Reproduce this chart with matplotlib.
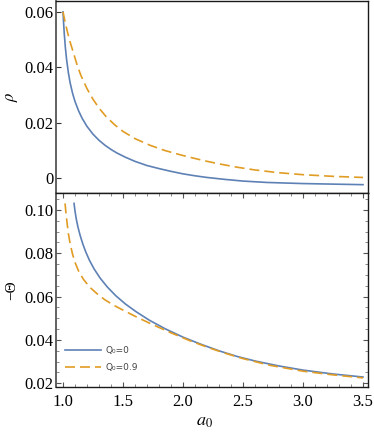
import matplotlib
matplotlib.use("Agg")
import matplotlib.pyplot as plt
from matplotlib.ticker import MultipleLocator

plt.rcParams['mathtext.fontset'] = 'stix'

# ---- data ----
a_rho_q0 = [1.000, 1.005, 1.010, 1.020, 1.030, 1.045, 1.060, 1.080, 1.100, 1.130,
            1.160, 1.200, 1.250, 1.300, 1.350, 1.400, 1.450, 1.520, 1.600, 1.700,
            1.800, 1.900, 2.000, 2.100, 2.200, 2.350, 2.500, 2.700, 3.000, 3.500]
rho_q0 = [0.0600, 0.0560, 0.0525, 0.0470, 0.0428, 0.0380, 0.0343, 0.0306, 0.0277, 0.0243,
          0.0216, 0.0187, 0.0159, 0.0137, 0.0119, 0.0104, 0.0091, 0.0076, 0.0061, 0.0046,
          0.0035, 0.0025, 0.0016, 0.0009, 0.0003, -0.0004, -0.0010, -0.0015, -0.0019, -0.0023]

a_rho_q09 = [1.000, 1.020, 1.040, 1.060, 1.090, 1.120, 1.150, 1.200, 1.250, 1.300,
             1.360, 1.430, 1.500, 1.600, 1.725, 1.850, 2.000, 2.170, 2.300, 2.450,
             2.600, 2.800, 3.000, 3.250, 3.500]
rho_q09 = [0.0600, 0.0558, 0.0522, 0.0490, 0.0448, 0.0405, 0.0370, 0.0323, 0.0285, 0.0253,
           0.0222, 0.0193, 0.0169, 0.0143, 0.0119, 0.0100, 0.0082, 0.0064, 0.0052, 0.0040,
           0.0030, 0.0020, 0.0013, 0.0007, 0.0003]

a_th_q0 = [1.092, 1.100, 1.110, 1.125, 1.142, 1.165, 1.190, 1.220, 1.260, 1.310,
           1.370, 1.440, 1.520, 1.610, 1.720, 1.850, 2.000, 2.150, 2.300, 2.450,
           2.600, 2.800, 3.000, 3.250, 3.500]
th_q0 = [0.1030, 0.0995, 0.0960, 0.0920, 0.0884, 0.0843, 0.0806, 0.0768, 0.0727, 0.0685,
         0.0644, 0.0604, 0.0566, 0.0530, 0.0491, 0.0452, 0.0413, 0.0380, 0.0350, 0.0324,
         0.0303, 0.0280, 0.0261, 0.0243, 0.0229]

a_th_q09 = [1.017, 1.025, 1.035, 1.045, 1.060, 1.080, 1.100, 1.130, 1.170, 1.220,
            1.280, 1.350, 1.430, 1.520, 1.620, 1.750, 1.900, 2.060, 2.200, 2.350,
            2.500, 2.725, 3.000, 3.250, 3.500]
th_q09 = [0.1030, 0.0985, 0.0935, 0.0890, 0.0843, 0.0795, 0.0758, 0.0718, 0.0680, 0.0645,
          0.0615, 0.0585, 0.0558, 0.0532, 0.0504, 0.0470, 0.0433, 0.0396, 0.0367, 0.0339,
          0.0314, 0.0283, 0.0256, 0.0239, 0.0225]

labels = ["Q\u2080=0", "Q\u2080=0.9"]
x_ticks = [1.0, 1.5, 2.0, 2.5, 3.0, 3.5]
x_tick_labels = ["1.0", "1.5", "2.0", "2.5", "3.0", "3.5"]
rho_ticks = [0.0, 0.02, 0.04, 0.06]
rho_tick_labels = ["0", "0.02", "0.04", "0.06"]
th_ticks = [0.02, 0.04, 0.06, 0.08, 0.10]
th_tick_labels = ["0.02", "0.04", "0.06", "0.08", "0.10"]

BLUE = '#5E81B5'
ORANGE = '#E19C24'
TICKFONT = dict(family='Liberation Serif', size=12)

fig = plt.figure(figsize=(3.74, 4.36), dpi=100)
W, H = 374, 436
L, R = 56, 368
ax1 = fig.add_axes([L / W, 1 - 193 / H, (R - L) / W, 192 / H])
ax2 = fig.add_axes([L / W, 1 - 387 / H, (R - L) / W, 194 / H])

for ax in (ax1, ax2):
    for s in ax.spines.values():
        s.set_color('#1a1a1a')
        s.set_linewidth(1.0)
    ax.spines['left'].set_color('#555555')
    ax.spines['left'].set_linewidth(1.3)
    ax.set_xlim(0.9417, 3.5417)

# top panel
ax1.plot(a_rho_q0, rho_q0, color=BLUE, lw=1.2)
ax1.plot(a_rho_q09, rho_q09, color=ORANGE, lw=1.2, dashes=(6, 3))
ax1.set_ylim(-0.0053, 0.0639)
ax1.set_yticks(rho_ticks)
ax1.set_yticklabels(rho_tick_labels, fontdict=TICKFONT)
ax1.set_xticks([])
ax1.tick_params(axis='y', direction='in', length=3.5, width=0.8, color='#333333',
                left=True, right=False, pad=2)
ax1.set_ylabel(r'$\rho$', fontsize=12)
ax1.yaxis.set_label_coords(-0.115, 0.5)

# bottom panel
ax2.plot(a_th_q0, th_q0, color=BLUE, lw=1.2, label=labels[0])
ax2.plot(a_th_q09, th_q09, color=ORANGE, lw=1.2, dashes=(6, 3), label=labels[1])
ax2.set_ylim(0.0183, 0.1078)
ax2.set_yticks(th_ticks)
ax2.set_yticklabels(th_tick_labels, fontdict=TICKFONT)
ax2.set_xticks(x_ticks)
ax2.set_xticklabels(x_tick_labels, fontdict=TICKFONT)
ax2.xaxis.set_minor_locator(MultipleLocator(0.1))
ax2.yaxis.set_minor_locator(MultipleLocator(0.005))
ax2.tick_params(axis='y', which='major', pad=2)
ax2.tick_params(axis='x', which='major', pad=5)
ax2.tick_params(which='major', direction='in', length=3.5, width=0.8, color='#555555',
                top=True, right=True)
ax2.tick_params(which='minor', direction='in', length=2, width=0.6, color='#777777',
                top=True, right=True)
ax2.set_ylabel('\u2212\u0398', fontsize=11, family='Liberation Serif')
ax2.yaxis.set_label_coords(-0.12, 0.5)
ax2.set_xlabel(r'$a_0$', fontsize=13)
ax2.xaxis.set_label_coords(0.475, -0.13)

leg = ax2.legend(loc='lower left', bbox_to_anchor=(0.01, 0.05), frameon=False,
                 handlelength=4.0, handletextpad=0.5, labelspacing=0.85,
                 prop=dict(family='DejaVu Sans', size=6.5), borderaxespad=0.2)
for t in leg.get_texts():
    t.set_color('#444444')

fig.savefig('out.png', dpi=100)
